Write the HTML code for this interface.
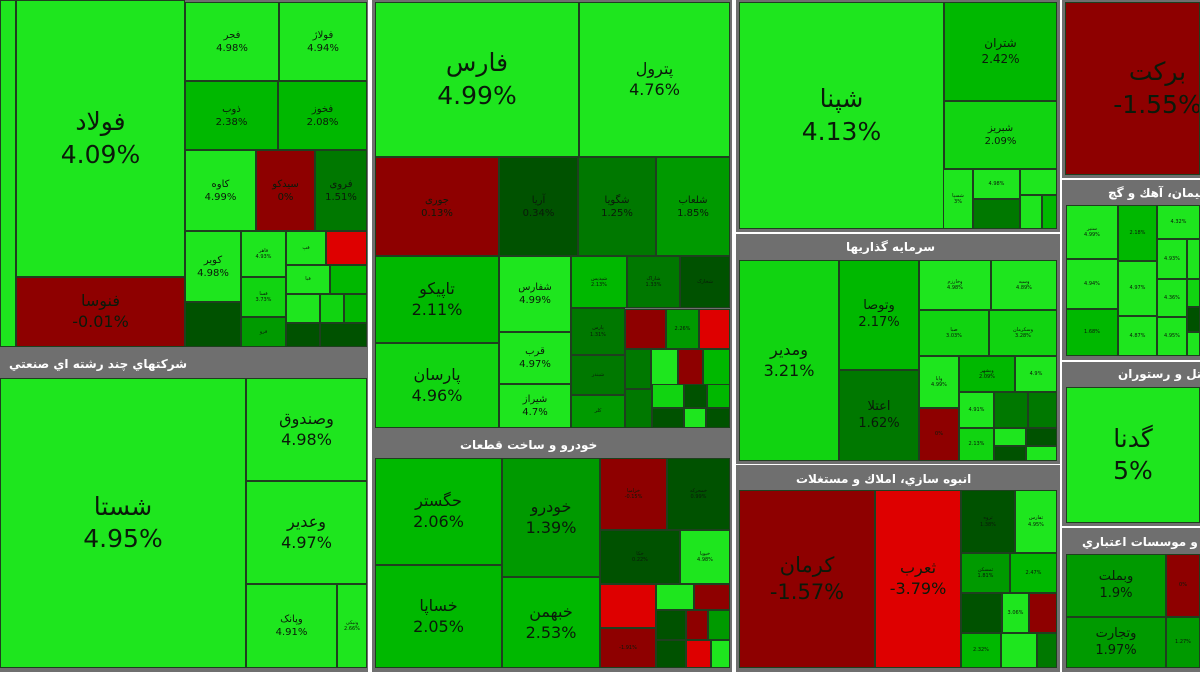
<!DOCTYPE html>
<html><head><meta charset="utf-8"><style>
body{margin:0;width:1200px;height:674px;background:#fff;position:relative;overflow:hidden;font-family:"DejaVu Sans","Liberation Sans",sans-serif}
.p{position:absolute;background:#6f6f6f}
.t{position:absolute;box-sizing:border-box;border:1px solid #1f3f1f;display:flex;flex-direction:column;align-items:center;justify-content:center;color:#0a1a0a;text-align:center;line-height:1.3;overflow:hidden;font-size:10px}
.t div{direction:ltr;unicode-bidi:plaintext}
.h{position:absolute;color:#fff;font-size:12px;font-weight:bold;white-space:nowrap}
.L{font-size:25px}.M{font-size:16px}.S{font-size:10px}.X{font-size:5px}
.B{background:#1ee61e}.b{background:#11d411}.m{background:#00b800}.g{background:#009a00}.d{background:#007800}.D{background:#005200}
.R{background:#8e0000}.r{background:#de0000}
</style></head><body>
<!-- column 1 -->
<div class="p" style="left:0;top:0;width:368px;height:350px"></div>
<div class="t B" style="left:0;top:0;width:16px;height:347px"></div>
<div class="t B L" style="left:16px;top:0;width:169px;height:277px"><div>فولاد</div><div>4.09%</div></div>
<div class="t R M" style="left:16px;top:277px;width:169px;height:70px"><div>فنوسا</div><div>-0.01%</div></div>
<div class="t B" style="left:185px;top:2px;width:94px;height:79px"><div>فجر</div><div>4.98%</div></div>
<div class="t B" style="left:279px;top:2px;width:88px;height:79px"><div>فولاژ</div><div>4.94%</div></div>
<div class="t m" style="left:185px;top:81px;width:93px;height:69px"><div>ذوب</div><div>2.38%</div></div>
<div class="t m" style="left:278px;top:81px;width:89px;height:69px"><div>فخوز</div><div>2.08%</div></div>
<div class="t B S" style="left:185px;top:150px;width:71px;height:81px"><div>کاوه</div><div>4.99%</div></div>
<div class="t R S" style="left:256px;top:150px;width:59px;height:81px"><div>سیدکو</div><div>0%</div></div>
<div class="t d S" style="left:315px;top:150px;width:52px;height:81px"><div>فروی</div><div>1.51%</div></div>
<div class="t B S" style="left:185px;top:231px;width:56px;height:71px"><div>کویر</div><div>4.98%</div></div>
<div class="t D X" style="left:185px;top:302px;width:56px;height:45px"></div>
<div class="t B X" style="left:241px;top:231px;width:45px;height:46px"><div>فاهر</div><div>4.93%</div></div>
<div class="t b X" style="left:241px;top:277px;width:45px;height:40px"><div>فسا</div><div>3.73%</div></div>
<div class="t g X" style="left:241px;top:317px;width:45px;height:30px"><div>فرو</div></div>
<div class="t B X" style="left:286px;top:231px;width:40px;height:34px"><div>فپ</div></div>
<div class="t r X" style="left:326px;top:231px;width:41px;height:34px"></div>
<div class="t B X" style="left:286px;top:265px;width:44px;height:29px"><div>فبا</div></div>
<div class="t m X" style="left:330px;top:265px;width:37px;height:29px"></div>
<div class="t B X" style="left:286px;top:294px;width:34px;height:29px"></div>
<div class="t b X" style="left:320px;top:294px;width:24px;height:29px"></div>
<div class="t m X" style="left:344px;top:294px;width:23px;height:29px"></div>
<div class="t D X" style="left:286px;top:323px;width:34px;height:24px"></div>
<div class="t D X" style="left:320px;top:323px;width:47px;height:24px"></div>
<div class="p" style="left:0;top:350px;width:368px;height:322px"></div>
<div class="h" style="right:1013px;top:357px">شرکتهاي چند رشته اي صنعتي</div>
<div class="t B L" style="left:0;top:378px;width:246px;height:290px"><div>شستا</div><div>4.95%</div></div>
<div class="t B M" style="left:246px;top:378px;width:121px;height:103px"><div>وصندوق</div><div>4.98%</div></div>
<div class="t B M" style="left:246px;top:481px;width:121px;height:103px"><div>وعدیر</div><div>4.97%</div></div>
<div class="t B" style="left:246px;top:584px;width:91px;height:84px"><div>وپانک</div><div>4.91%</div></div>
<div class="t B X" style="left:337px;top:584px;width:30px;height:84px"><div>ونیکی</div><div>2.66%</div></div>
<!-- column 2 -->
<div class="p" style="left:372px;top:0;width:360px;height:431px"></div>
<div class="t B L" style="left:375px;top:2px;width:204px;height:155px"><div>فارس</div><div>4.99%</div></div>
<div class="t B M" style="left:579px;top:2px;width:151px;height:155px"><div>پترول</div><div>4.76%</div></div>
<div class="t R" style="left:375px;top:157px;width:124px;height:99px"><div>جوری</div><div>0.13%</div></div>
<div class="t D" style="left:499px;top:157px;width:79px;height:99px"><div>آریا</div><div>0.34%</div></div>
<div class="t d" style="left:578px;top:157px;width:78px;height:99px"><div>شگویا</div><div>1.25%</div></div>
<div class="t g" style="left:656px;top:157px;width:74px;height:99px"><div>شلعاب</div><div>1.85%</div></div>
<div class="t m M" style="left:375px;top:256px;width:124px;height:87px"><div>تاپیکو</div><div>2.11%</div></div>
<div class="t b M" style="left:375px;top:343px;width:124px;height:85px"><div>پارسان</div><div>4.96%</div></div>
<div class="t B" style="left:499px;top:256px;width:72px;height:76px"><div>شفارس</div><div>4.99%</div></div>
<div class="t B S" style="left:499px;top:332px;width:72px;height:52px"><div>قرب</div><div>4.97%</div></div>
<div class="t B S" style="left:499px;top:384px;width:72px;height:44px"><div>شیراز</div><div>4.7%</div></div>
<div class="t m X" style="left:571px;top:256px;width:56px;height:52px"><div>شپدیس</div><div>2.13%</div></div>
<div class="t d X" style="left:627px;top:256px;width:53px;height:52px"><div>شاراک</div><div>1.33%</div></div>
<div class="t D X" style="left:680px;top:256px;width:50px;height:52px"><div>شخارک</div></div>
<div class="t d X" style="left:571px;top:308px;width:54px;height:47px"><div>پارس</div><div>1.31%</div></div>
<div class="t d X" style="left:571px;top:355px;width:54px;height:40px"><div>شبندر</div></div>
<div class="t g X" style="left:571px;top:395px;width:54px;height:33px"><div>کلر</div></div>
<div class="t R X" style="left:625px;top:309px;width:41px;height:40px"></div>
<div class="t g X" style="left:666px;top:309px;width:33px;height:40px"><div>2.26%</div></div>
<div class="t r X" style="left:699px;top:309px;width:31px;height:40px"></div>
<div class="t d X" style="left:625px;top:349px;width:26px;height:40px"></div>
<div class="t B X" style="left:651px;top:349px;width:27px;height:40px"></div>
<div class="t R X" style="left:678px;top:349px;width:25px;height:40px"></div>
<div class="t m X" style="left:703px;top:349px;width:27px;height:40px"></div>
<div class="t d X" style="left:625px;top:389px;width:27px;height:39px"></div>
<div class="t b X" style="left:652px;top:384px;width:32px;height:24px"></div>
<div class="t D X" style="left:684px;top:384px;width:23px;height:24px"></div>
<div class="t m X" style="left:707px;top:384px;width:23px;height:24px"></div>
<div class="t D X" style="left:652px;top:408px;width:32px;height:20px"></div>
<div class="t B X" style="left:684px;top:408px;width:22px;height:20px"></div>
<div class="t D X" style="left:706px;top:408px;width:24px;height:20px"></div>
<div class="p" style="left:372px;top:431px;width:360px;height:241px"></div>
<div class="h" style="left:460px;top:438px">خودرو و ساخت قطعات</div>
<div class="t m M" style="left:375px;top:458px;width:127px;height:107px"><div>حگستر</div><div>2.06%</div></div>
<div class="t m M" style="left:375px;top:565px;width:127px;height:103px"><div>خساپا</div><div>2.05%</div></div>
<div class="t g M" style="left:502px;top:458px;width:98px;height:119px"><div>خودرو</div><div>1.39%</div></div>
<div class="t m M" style="left:502px;top:577px;width:98px;height:91px"><div>خبهمن</div><div>2.53%</div></div>
<div class="t R X" style="left:600px;top:458px;width:67px;height:72px"><div>خزامیا</div><div>-0.15%</div></div>
<div class="t D X" style="left:667px;top:458px;width:63px;height:72px"><div>خمحرکه</div><div>0.99%</div></div>
<div class="t D X" style="left:600px;top:530px;width:80px;height:54px"><div>خکا</div><div>0.22%</div></div>
<div class="t B X" style="left:680px;top:530px;width:50px;height:54px"><div>خپویا</div><div>4.98%</div></div>
<div class="t r X" style="left:600px;top:584px;width:56px;height:44px"></div>
<div class="t B X" style="left:656px;top:584px;width:38px;height:26px"></div>
<div class="t R X" style="left:694px;top:584px;width:36px;height:26px"></div>
<div class="t R X" style="left:600px;top:628px;width:56px;height:40px"><div>-1.91%</div></div>
<div class="t D X" style="left:656px;top:610px;width:30px;height:30px"></div>
<div class="t R X" style="left:686px;top:610px;width:22px;height:30px"></div>
<div class="t g X" style="left:708px;top:610px;width:22px;height:30px"></div>
<div class="t D X" style="left:656px;top:640px;width:30px;height:28px"></div>
<div class="t r X" style="left:686px;top:640px;width:25px;height:28px"></div>
<div class="t B X" style="left:711px;top:640px;width:19px;height:28px"></div>
<!-- column 3 -->
<div class="p" style="left:736px;top:0;width:324px;height:232px"></div>
<div class="t B L" style="left:739px;top:2px;width:205px;height:227px"><div>شپنا</div><div>4.13%</div></div>
<div class="t m" style="left:944px;top:2px;width:113px;height:99px"><div style="font-size:12px">شتران</div><div style="font-size:12px">2.42%</div></div>
<div class="t b S" style="left:944px;top:101px;width:113px;height:68px"><div>شبریز</div><div>2.09%</div></div>
<div class="t B X" style="left:943px;top:169px;width:30px;height:60px"><div>شسپا</div><div>3%</div></div>
<div class="t B X" style="left:973px;top:169px;width:47px;height:30px"><div>4.98%</div></div>
<div class="t d X" style="left:973px;top:199px;width:47px;height:30px"></div>
<div class="t B X" style="left:1020px;top:169px;width:37px;height:26px"></div>
<div class="t B X" style="left:1020px;top:195px;width:22px;height:34px"></div>
<div class="t m X" style="left:1042px;top:195px;width:15px;height:34px"></div>
<div class="p" style="left:736px;top:234px;width:324px;height:230px"></div>
<div class="h" style="left:846px;top:240px">سرمایه گذاریها</div>
<div class="t b M" style="left:739px;top:260px;width:100px;height:201px"><div>ومدیر</div><div>3.21%</div></div>
<div class="t m" style="left:839px;top:260px;width:80px;height:110px"><div style="font-size:13px">وتوصا</div><div style="font-size:13px">2.17%</div></div>
<div class="t d" style="left:839px;top:370px;width:80px;height:91px"><div style="font-size:13px">اعتلا</div><div style="font-size:13px">1.62%</div></div>
<div class="t B X" style="left:919px;top:260px;width:72px;height:50px"><div>وخارزم</div><div>4.98%</div></div>
<div class="t B X" style="left:991px;top:260px;width:66px;height:50px"><div>وسپه</div><div>4.89%</div></div>
<div class="t b X" style="left:919px;top:310px;width:70px;height:46px"><div>صبا</div><div>3.03%</div></div>
<div class="t b X" style="left:989px;top:310px;width:68px;height:46px"><div>وسکرمان</div><div>3.28%</div></div>
<div class="t B X" style="left:919px;top:356px;width:40px;height:52px"><div>وایا</div><div>4.99%</div></div>
<div class="t m X" style="left:959px;top:356px;width:56px;height:36px"><div>وبشهر</div><div>2.09%</div></div>
<div class="t B X" style="left:1015px;top:356px;width:42px;height:36px"><div>4.9%</div></div>
<div class="t R X" style="left:919px;top:408px;width:40px;height:53px"><div>0%</div></div>
<div class="t B X" style="left:959px;top:392px;width:35px;height:36px"><div>4.91%</div></div>
<div class="t d X" style="left:994px;top:392px;width:34px;height:36px"></div>
<div class="t d X" style="left:1028px;top:392px;width:29px;height:36px"></div>
<div class="t b X" style="left:959px;top:428px;width:35px;height:33px"><div>2.13%</div></div>
<div class="t B X" style="left:994px;top:428px;width:32px;height:18px"></div>
<div class="t D X" style="left:1026px;top:428px;width:31px;height:18px"></div>
<div class="t D X" style="left:994px;top:446px;width:32px;height:15px"></div>
<div class="t B X" style="left:1026px;top:446px;width:31px;height:15px"></div>
<div class="p" style="left:736px;top:465px;width:324px;height:207px"></div>
<div class="h" style="left:796px;top:472px">انبوه سازي، املاك و مستغلات</div>
<div class="t R L" style="left:739px;top:490px;width:136px;height:178px"><div style="font-size:21px">کرمان</div><div style="font-size:21px">-1.57%</div></div>
<div class="t r M" style="left:875px;top:490px;width:86px;height:178px"><div>ثعرب</div><div>-3.79%</div></div>
<div class="t D X" style="left:961px;top:490px;width:54px;height:63px"><div>ثروه</div><div>1.38%</div></div>
<div class="t B X" style="left:1015px;top:490px;width:42px;height:63px"><div>ثفارس</div><div>4.95%</div></div>
<div class="t g X" style="left:961px;top:553px;width:49px;height:40px"><div>ثمسکن</div><div>1.81%</div></div>
<div class="t m X" style="left:1010px;top:553px;width:47px;height:40px"><div>2.47%</div></div>
<div class="t D X" style="left:961px;top:593px;width:41px;height:40px"></div>
<div class="t B X" style="left:1002px;top:593px;width:27px;height:40px"><div>3.06%</div></div>
<div class="t R X" style="left:1029px;top:593px;width:28px;height:40px"></div>
<div class="t m X" style="left:961px;top:633px;width:40px;height:35px"><div>2.32%</div></div>
<div class="t B X" style="left:1001px;top:633px;width:36px;height:35px"></div>
<div class="t d X" style="left:1037px;top:633px;width:20px;height:35px"></div>
<!-- column 4 -->
<div class="p" style="left:1062px;top:0;width:138px;height:178px"></div>
<div class="t R L" style="left:1065px;top:2px;width:135px;height:173px"><div style="margin-left:50px">برکت</div><div style="margin-left:50px">-1.55%</div></div>
<div class="p" style="left:1062px;top:180px;width:138px;height:180px"></div>
<div class="h" style="left:1108px;top:186px">سیمان، آهك و گچ</div>
<div class="t B X" style="left:1066px;top:205px;width:52px;height:54px"><div>سنیر</div><div>4.99%</div></div>
<div class="t m X" style="left:1118px;top:205px;width:39px;height:56px"><div>2.18%</div></div>
<div class="t B X" style="left:1157px;top:205px;width:43px;height:34px"><div>4.32%</div></div>
<div class="t B X" style="left:1066px;top:259px;width:52px;height:50px"><div>4.94%</div></div>
<div class="t B X" style="left:1118px;top:261px;width:39px;height:55px"><div>4.97%</div></div>
<div class="t B X" style="left:1157px;top:239px;width:30px;height:40px"><div>4.93%</div></div>
<div class="t B X" style="left:1187px;top:239px;width:13px;height:40px"></div>
<div class="t m X" style="left:1066px;top:309px;width:52px;height:47px"><div>1.68%</div></div>
<div class="t B X" style="left:1118px;top:316px;width:39px;height:40px"><div>4.87%</div></div>
<div class="t B X" style="left:1157px;top:279px;width:30px;height:38px"><div>4.36%</div></div>
<div class="t B X" style="left:1157px;top:317px;width:30px;height:39px"><div>4.95%</div></div>
<div class="t b X" style="left:1187px;top:279px;width:13px;height:28px"></div>
<div class="t D X" style="left:1187px;top:307px;width:13px;height:25px"></div>
<div class="t B X" style="left:1187px;top:332px;width:13px;height:24px"></div>
<div class="p" style="left:1062px;top:362px;width:138px;height:164px"></div>
<div class="h" style="left:1118px;top:367px">هتل و رستوران</div>
<div class="t B L" style="left:1066px;top:387px;width:134px;height:136px"><div>گدنا</div><div>5%</div></div>
<div class="p" style="left:1062px;top:528px;width:138px;height:144px"></div>
<div class="h" style="left:1082px;top:535px">بانکها و موسسات اعتباري</div>
<div class="t g" style="left:1066px;top:554px;width:100px;height:63px"><div style="font-size:13px">وبملت</div><div style="font-size:13px">1.9%</div></div>
<div class="t g" style="left:1066px;top:617px;width:100px;height:51px"><div style="font-size:13px">وتجارت</div><div style="font-size:13px">1.97%</div></div>
<div class="t R X" style="left:1166px;top:554px;width:34px;height:63px"><div>0%</div></div>
<div class="t g X" style="left:1166px;top:617px;width:34px;height:51px"><div>1.27%</div></div>
</body></html>
